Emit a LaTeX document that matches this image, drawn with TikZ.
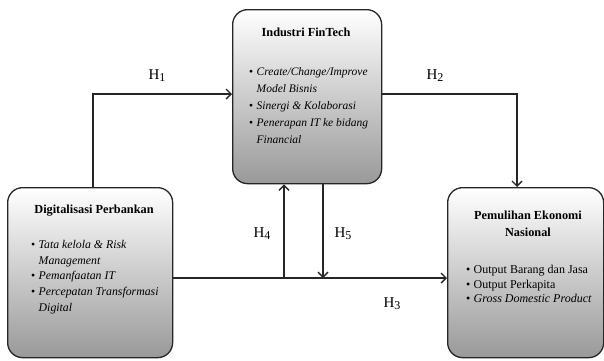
\documentclass[tikz,border=0pt]{standalone}
\usepackage{fontspec}
\setmainfont{Liberation Serif}
\usetikzlibrary{arrows.meta}
\newcommand{\hsub}[1]{H\raisebox{-2pt}{\fontsize{12}{14}\selectfont #1}}
\newcommand{\bul}{\makebox[7.5pt][l]{\upshape\textbullet}}
\begin{document}
\begin{tikzpicture}[x=1pt,y=-1pt,
  box/.style={draw=black!85,line width=1.3pt,rounded corners=15pt,top color=white,bottom color=black!40,align=left,anchor=north west,inner sep=0pt},
  conn/.style={line width=1.6pt,black!85},
  arr/.style={conn,-{Straight Barb[length=5pt,width=10pt,line width=1.4pt]}},
  ttl/.style={font=\fontsize{12.3}{16}\selectfont\bfseries,anchor=north,align=center,inner sep=0pt},
  lst/.style={anchor=north west,align=left,inner sep=0pt},
  hlab/.style={font=\fontsize{15}{17}\selectfont,inner sep=0pt}]
\useasboundingbox (0,0) rectangle (604,360);
\fill[white] (0,0) rectangle (604,360);
% boxes
\node[box,minimum width=149pt,minimum height=174pt] (fin) at (232,9) {};
\node[box,minimum width=165pt,minimum height=170pt] (dig) at (7,187) {};
\node[box,minimum width=156pt,minimum height=170pt] (pem) at (447,187) {};
% texts
\node[ttl] (fint) at (306,28) {Industri FinTech};
\node[lst,font=\fontsize{11.5}{17.2}\selectfont\itshape] (finl) at (249,67) {%
  \bul Create/Change/Improve\\
  \hspace*{7.5pt}Model Bisnis\\
  \bul Sinergi \& Kolaborasi\\
  \bul Penerapan IT ke bidang\\
  \hspace*{7.5pt}Financial};
\node[ttl] (digt) at (94,205) {Digitalisasi Perbankan};
\node[lst,font=\fontsize{11.8}{15.8}\selectfont\itshape] (digl) at (31,240) {%
  \bul Tata kelola \& Risk\\
  \hspace*{7.5pt}Management\\
  \bul Pemanfaatan IT\\
  \bul Percepatan Transformasi\\
  \hspace*{7.5pt}Digital};
\node[ttl,font=\fontsize{12.3}{17}\selectfont\bfseries] (pemt) at (528,211) {Pemulihan Ekonomi\\Nasional};
\node[lst,font=\fontsize{12}{14.5}\selectfont] (peml) at (466,265) {%
  \bul Output Barang dan Jasa\\
  \bul Output Perkapita\\
  \bul\textit{Gross Domestic Product}};
% connector points
\coordinate (h1c) at (93,94);
\coordinate (h2c) at (517,94);
\coordinate (j4) at (284,278);
\coordinate (j5) at (323,278);
% connectors
\draw[arr] (dig.north -| h1c) -- (h1c) -- (fin.west |- h1c);
\draw[arr] (fin.east |- h2c) -- (h2c) -- (pem.north -| h2c);
\draw[arr] (dig.east |- j4) -- (pem.west |- j4);
\draw[arr] (j4) -- (fin.south -| j4);
\draw[arr] (fin.south -| j5) -- (j5);
% labels
\node[hlab] (l1) at (157,76) {\hsub{1}};
\node[hlab] (l2) at (435,76) {\hsub{2}};
\node[hlab] (l3) at (392,304) {\hsub{3}};
\node[hlab] (l4) at (262,234) {\hsub{4}};
\node[hlab] (l5) at (343,234) {\hsub{5}};
\end{tikzpicture}
\end{document}
